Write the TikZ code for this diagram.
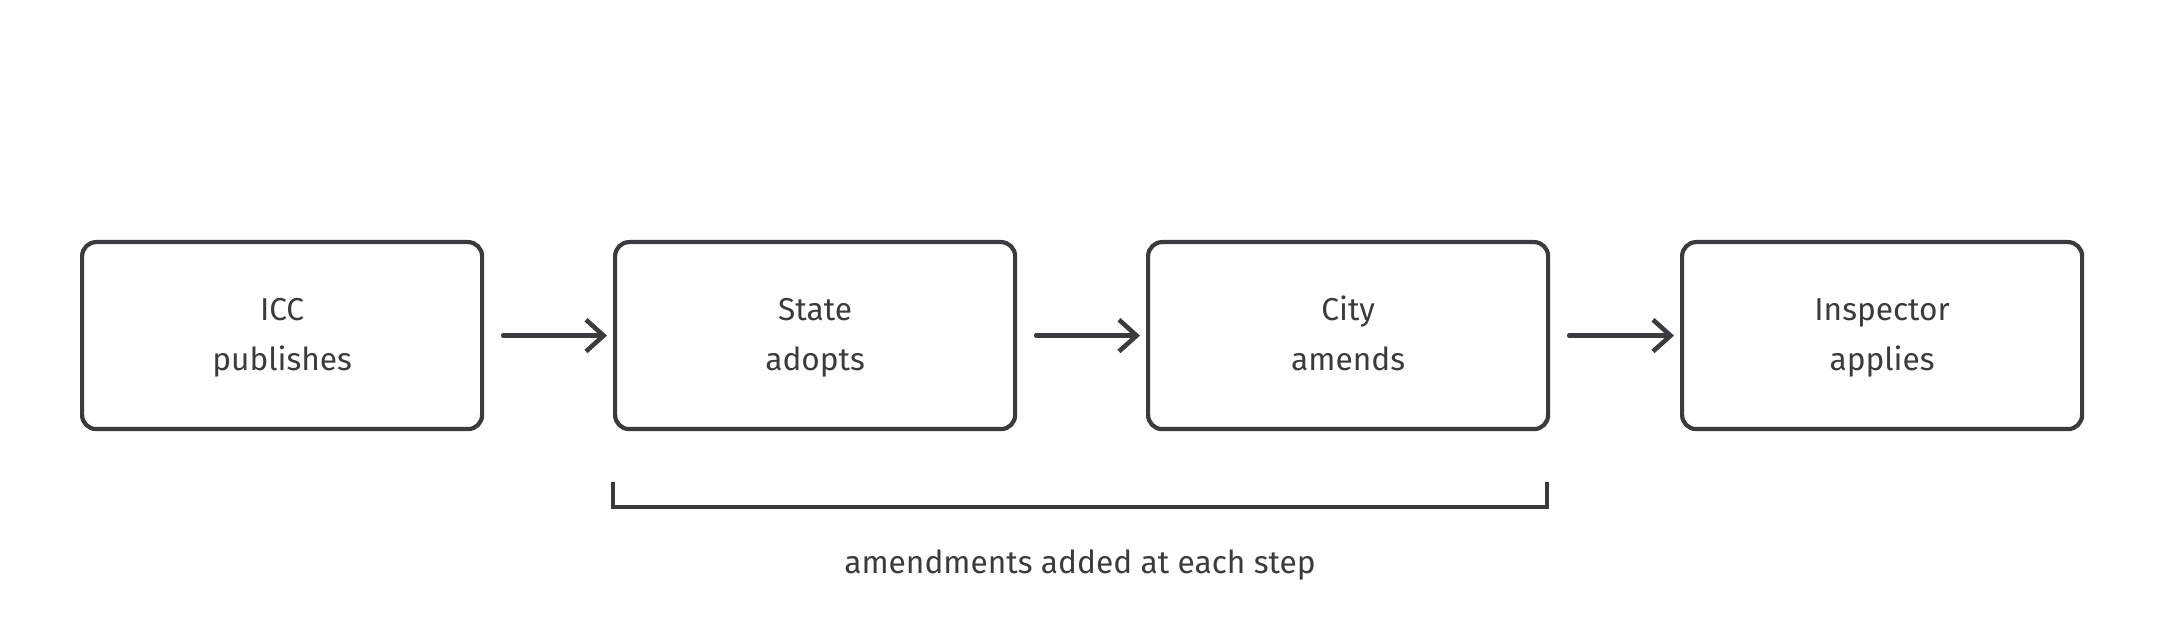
\documentclass[tikz,border=0pt]{standalone}
\usepackage{fontspec}
\setmainfont{Fira Sans}
\usetikzlibrary{arrows.meta}
\begin{document}
\begin{tikzpicture}[x=0.01cm,y=-0.01cm,
  box/.style={draw=ink,line width=1.2pt,rounded corners=4pt,minimum width=400*0.01cm,minimum height=187*0.01cm,align=center,font=\fontsize{9}{14}\selectfont,text=ink,anchor=north west},
  arr/.style={draw=ink,line width=1.3pt,-{Straight Barb[length=5pt,width=9pt,line width=1.3pt]},line cap=round}]
\definecolor{ink}{HTML}{3B3A3E}
\useasboundingbox (0,0) rectangle (2160,640);
\node[box] (a) at (80,240) {\strut ICC\\\strut publishes};
\node[box] (b) at (613,240) {\strut State\\\strut adopts};
\node[box] (c) at (1146,240) {\strut City\\\strut amends};
\node[box] (d) at (1680,240) {\strut Inspector\\\strut applies};
\draw[arr] ([xshift=19*0.01cm]a.east) -- ([xshift=-6*0.01cm]b.west);
\draw[arr] ([xshift=19*0.01cm]b.east) -- ([xshift=-6*0.01cm]c.west);
\draw[arr] ([xshift=19*0.01cm]c.east) -- ([xshift=-6*0.01cm]d.west);
\coordinate (l) at (613,482); \coordinate (r) at (1547,482);
\draw[ink,line width=1.2pt] (l) -- ++(0,25) -| (r);
\node[text=ink,font=\fontsize{9}{11}\selectfont] (t) at (1080,565) {amendments added at each step};
\end{tikzpicture}
\end{document}
